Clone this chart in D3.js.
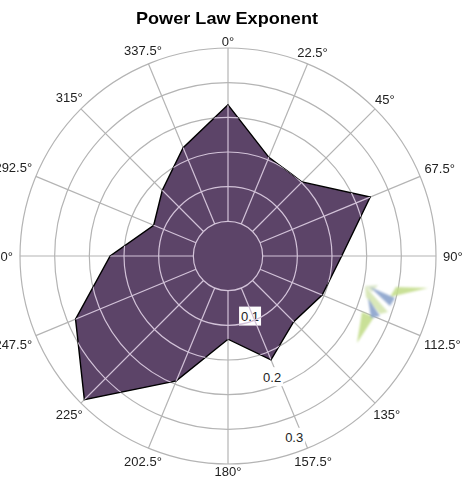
<!DOCTYPE html>
<html><head><meta charset="utf-8">
<script src="https://cdn.jsdelivr.net/npm/d3@7"></script>
<style>
html,body{margin:0;padding:0;background:#fff;overflow:hidden}
svg{display:block;filter:blur(0.5px)}
text{font-family:"Liberation Sans",Arial,sans-serif}
</style></head><body>
<svg id="c" width="467" height="485"></svg>
<script>
const chartTitle = "Power Law Exponent";
const directions = [0,22.5,45,67.5,90,112.5,135,157.5,180,202.5,225,247.5,270,292.5,315,337.5];
const exponent = [0.218,0.154,0.151,0.222,0.164,0.147,0.134,0.162,0.120,0.195,0.293,0.238,0.170,0.116,0.134,0.169];
const rings = [0.05,0.10,0.15,0.20,0.25,0.30];
const radialLabels = [0.1,0.2,0.3];
const logoShapes = [
  {c:"#c3dd8c",o:.9,p:[[390,297],[428,288],[396,287]]},
  {c:"#c3dd8c",o:.9,p:[[357,343],[362,312],[374,317]]},
  {c:"#cfe2a8",o:.8,p:[[365,286],[388,312],[380,314],[366,297]]},
  {c:"#d3e2bd",o:.8,p:[[365,286],[378,285],[372,292]]},
  {c:"#8fa6cf",o:.95,p:[[370,287],[395,298],[390,306]]},
  {c:"#8fa6cf",o:.95,p:[[368,298],[380,316],[371,318]]}
];
const cx=228, cy=256, R=208;
const svg=d3.select("#c");
const r=d3.scaleLinear().domain([0,0.3]).range([0,R]);
const a=d3.scaleLinear().domain([0,360]).range([0,2*Math.PI]);
const g=svg.append("g").attr("transform",`translate(${cx},${cy})`);
const pt=(deg,rad)=>[rad*Math.sin(a(deg)),-rad*Math.cos(a(deg))];
const poly=directions.map((d,i)=>pt(d,r(exponent[i])));
const polyPath="M"+poly.join("L")+"Z";

const defs=svg.append("defs");
defs.append("clipPath").attr("id","inside").append("path")
  .attr("transform",`translate(${cx},${cy})`).attr("d",polyPath);
defs.append("filter").attr("id","soft").append("feGaussianBlur").attr("stdDeviation",0.9);

function grid(sel,color){
  sel.selectAll("circle").data(rings).join("circle")
    .attr("r",d=>r(d)).attr("fill","none").attr("stroke",color).attr("stroke-width",1.2);
  sel.selectAll("line").data(directions).join("line")
    .attr("x1",d=>pt(d,r(0.05))[0]).attr("y1",d=>pt(d,r(0.05))[1])
    .attr("x2",d=>pt(d,R)[0]).attr("y2",d=>pt(d,R)[1])
    .attr("stroke",color).attr("stroke-width",1.2);
}
grid(g.append("g"),"#b4b4b4");
g.append("path").attr("d",polyPath).attr("fill","#5c4468").attr("stroke","#000").attr("stroke-width",1.4).attr("stroke-linejoin","miter");
const clipWrap=svg.append("g").attr("clip-path","url(#inside)");
grid(clipWrap.append("g").attr("transform",`translate(${cx},${cy})`),"#d2c2d8");

// logo watermark
svg.append("g").attr("filter","url(#soft)").selectAll("polygon").data(logoShapes).join("polygon")
  .attr("points",d=>d.p.join(" ")).attr("fill",d=>d.c).attr("opacity",d=>d.o);

// direction labels
g.selectAll("text.dir").data(directions).join("text").attr("class","dir")
  .text(d=>d+"°").attr("font-size",13).attr("fill","#222").attr("text-anchor","middle").attr("dy","0.35em")
  .each(function(d){
    const w=this.getComputedTextLength();
    const p=pt(d,R+7+w/2*Math.abs(Math.sin(a(d))));
    d3.select(this).attr("x",p[0]).attr("y",p[1]);
  });

// radial value labels
const lab=g.selectAll("g.rl").data(radialLabels).join("g").attr("class","rl").attr("opacity",0.99)
  .attr("transform",d=>{const p=pt(160,r(d)*0.93);return `translate(${p[0]},${p[1]})`;});
lab.append("rect").attr("x",-11).attr("y",-10).attr("width",22).attr("height",19).attr("fill","#fff");
lab.append("text").text(d=>d3.format(".1f")(d)).attr("font-size",13).attr("fill","#222")
  .attr("text-anchor","middle").attr("dy","0.35em");

svg.append("text").text(chartTitle).attr("x",227).attr("y",24).attr("text-anchor","middle")
  .attr("font-size",17).attr("font-weight","bold").attr("fill","#000").attr("textLength",182).attr("lengthAdjust","spacingAndGlyphs");
</script>
</body></html>
